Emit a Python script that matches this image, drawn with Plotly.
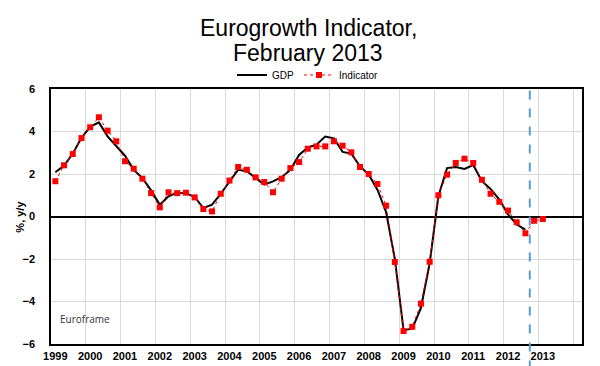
import plotly.graph_objects as go

# Quarterly categories 1999Q1 .. 2014Q1
years = list(range(1999, 2015))
quarters = [f"{y}Q{q}" for y in years for q in range(1, 5)][:61]

# Year tick labels (placed at Q1 of each year)
year_labels = [str(y) for y in range(1999, 2014)]

# Euro area GDP growth, % y/y (1999Q1 .. 2012Q3)
gdp = [
    2.08, 2.40, 2.95, 3.70,
    4.22, 4.43, 3.77, 3.30,
    2.86, 2.20, 1.81, 1.23,
    0.55, 0.95, 1.12, 1.10,
    0.92, 0.40, 0.56, 1.07,
    1.65, 2.20, 2.13, 1.81,
    1.50, 1.65, 1.85, 2.20,
    2.90, 3.25, 3.38, 3.76,
    3.68, 3.04, 2.96, 2.36,
    1.97, 1.26, 0.20, -2.00,
    -5.35, -5.28, -4.30, -2.20,
    0.95, 2.28, 2.33, 2.24,
    2.42, 1.66, 1.30, 0.80,
    0.10, -0.38, -0.62,
]

# Eurogrowth Indicator, % y/y (1999Q1 .. 2013Q1)
indicator = [
    1.66, 2.41, 2.94, 3.69,
    4.20, 4.67, 4.04, 3.54,
    2.60, 2.25, 1.78, 1.10,
    0.43, 1.14, 1.10, 1.12,
    0.90, 0.35, 0.24, 1.07,
    1.69, 2.33, 2.20, 1.84,
    1.62, 1.14, 1.78, 2.28,
    2.56, 3.19, 3.30, 3.30,
    3.54, 3.33, 3.02, 2.33,
    2.00, 1.53, 0.51, -2.14,
    -5.39, -5.19, -4.10, -2.13,
    1.00, 1.97, 2.52, 2.72,
    2.52, 1.73, 1.07, 0.69,
    0.28, -0.27, -0.79, -0.20,
    -0.12,
]

x_index = list(range(len(quarters)))
year_ticks = [quarters.index(f"{y}Q1") for y in range(1999, 2014)]
forecast_start = len(gdp) - 0.5  # boundary between last GDP quarter and forecast

fig = go.Figure()
fig.add_trace(go.Scatter(
    x=x_index[:len(gdp)], y=gdp, name="GDP", mode="lines",
    line=dict(color="black", width=2),
))
fig.add_trace(go.Scatter(
    x=x_index[:len(indicator)], y=indicator, name="Indicator", mode="lines+markers",
    line=dict(color="#ff0000", width=1, dash="dot"),
    marker=dict(color="#ff0000", size=6, symbol="square"),
))

fig.add_shape(type="line", xref="x", yref="paper",
              x0=forecast_start, x1=forecast_start, y0=-0.1, y1=1,
              line=dict(color="#5b9bd5", width=2, dash="dash"), layer="above")

base_font = "Liberation Sans, Arial, sans-serif"

fig.update_layout(
    width=600, height=366,
    margin=dict(l=43, r=26, t=81, b=30),
    paper_bgcolor="white", plot_bgcolor="white",
    showlegend=True,
    legend=dict(orientation="h", x=0.484, xanchor="center", y=1.055, yanchor="middle",
                font=dict(family=base_font, size=10, color="black"),
                itemwidth=30, bgcolor="rgba(0,0,0,0)"),
    font=dict(family=base_font, color="black"),
    annotations=[
        dict(text="Eurogrowth Indicator,", xref="paper", yref="paper",
             x=0.484, y=1.24, xanchor="center", yanchor="middle", showarrow=False,
             font=dict(family=base_font, size=23, color="black")),
        dict(text="February 2013", xref="paper", yref="paper",
             x=0.484, y=1.142, xanchor="center", yanchor="middle", showarrow=False,
             font=dict(family=base_font, size=23, color="black")),
        dict(text="Euroframe", xref="paper", yref="paper",
             x=0.013, y=0.098, xanchor="left", yanchor="middle", showarrow=False,
             font=dict(family="Open Sans, sans-serif", size=10, color="#333333")),
        dict(text="%, y/y", xref="paper", yref="paper", textangle=-90,
             x=-0.06, y=0.5, xanchor="center", yanchor="middle", showarrow=False,
             font=dict(family=base_font, size=11, color="black", weight="bold")),
    ],
)

fig.update_xaxes(
    range=[-0.5, len(quarters) - 0.5],
    tickmode="array", tickvals=year_ticks, ticktext=year_labels,
    tickfont=dict(family=base_font, size=11, color="black", weight="bold"),
    ticks="", ticklabelstandoff=1,
    showgrid=False, zeroline=False,
    showline=True, linecolor="black", linewidth=1.5, mirror=True,
    minor=dict(tick0=-0.5, dtick=4, showgrid=True, gridcolor="#d9d9d9", gridwidth=1, ticks=""),
)
fig.update_yaxes(
    range=[-6, 6], dtick=2, tick0=0,
    tickfont=dict(family=base_font, size=11, color="black", weight="bold"),
    ticks="", ticklabelstandoff=12,
    showgrid=True, gridcolor="#d9d9d9", gridwidth=1,
    zeroline=True, zerolinecolor="black", zerolinewidth=1.5,
    showline=True, linecolor="black", linewidth=1.5, mirror=True,
)

fig.write_html("out.html")
